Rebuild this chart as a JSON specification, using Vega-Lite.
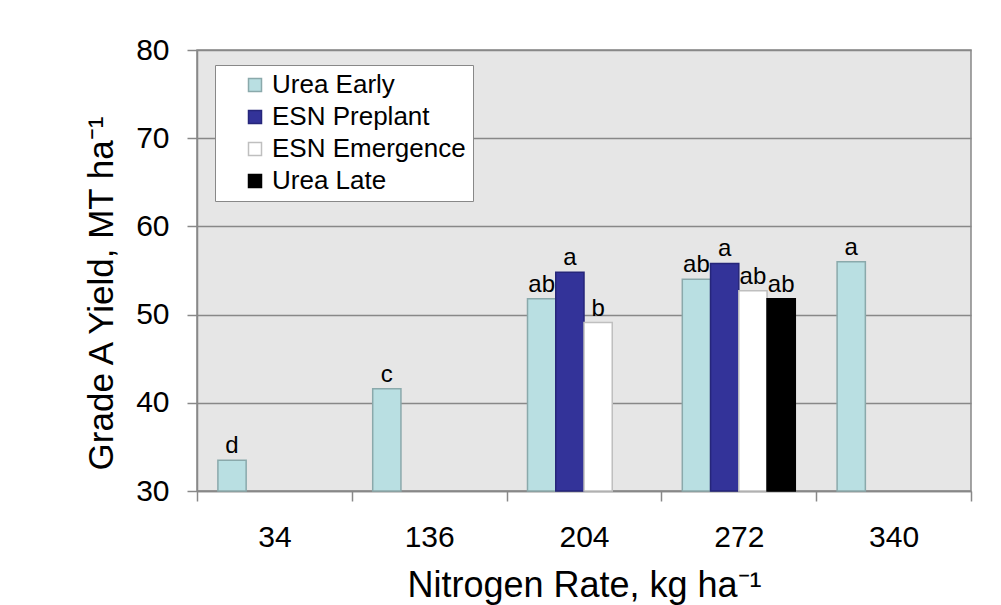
{
  "$schema": "https://vega.github.io/schema/vega-lite/v6.json",
  "width": 774,
  "height": 441,
  "autosize": {"type": "none"},
  "padding": {"left": 197, "top": 50, "right": 30, "bottom": 114},
  "background": "white",
  "config": {
    "font": "Liberation Sans",
    "view": {"fill": "#e6e6e6", "stroke": "#888888", "strokeWidth": 1.5}
  },
  "data": {
    "values": [
      {"rate": 34, "treatment": "Urea Early", "yield": 33.5, "letter": "d"},
      {"rate": 136, "treatment": "Urea Early", "yield": 41.6, "letter": "c"},
      {"rate": 204, "treatment": "Urea Early", "yield": 51.8, "letter": "ab"},
      {"rate": 204, "treatment": "ESN Preplant", "yield": 54.8, "letter": "a"},
      {"rate": 204, "treatment": "ESN Emergence", "yield": 49.1, "letter": "b"},
      {"rate": 272, "treatment": "Urea Early", "yield": 54.0, "letter": "ab"},
      {"rate": 272, "treatment": "ESN Preplant", "yield": 55.8, "letter": "a"},
      {"rate": 272, "treatment": "ESN Emergence", "yield": 52.7, "letter": "ab"},
      {"rate": 272, "treatment": "Urea Late", "yield": 51.8, "letter": "ab"},
      {"rate": 340, "treatment": "Urea Early", "yield": 56.0, "letter": "a"}
    ]
  },
  "encoding": {
    "x": {
      "field": "rate",
      "type": "ordinal",
      "scale": {"paddingInner": 0, "paddingOuter": 0},
      "axis": {
        "title": "Nitrogen Rate, kg ha⁻¹",
        "tickBand": "extent",
        "labelAngle": 0,
        "labelFontSize": 30,
        "labelColor": "black",
        "labelPadding": 21,
        "titleFontSize": 36,
        "titleFontWeight": "normal",
        "titleColor": "black",
        "titlePadding": 16,
        "tickColor": "#888888",
        "tickWidth": 1.5,
        "tickSize": 10,
        "domainColor": "#888888",
        "domainWidth": 1.5,
        "grid": false
      }
    },
    "xOffset": {
      "field": "treatment",
      "type": "nominal",
      "scale": {
        "domain": ["Urea Early", "ESN Preplant", "ESN Emergence", "Urea Late"],
        "paddingInner": 0,
        "paddingOuter": 0.74
      }
    },
    "y": {
      "field": "yield",
      "type": "quantitative",
      "scale": {"domain": [30, 80], "zero": false, "nice": false},
      "axis": {
        "title": "Grade A Yield,  MT ha⁻¹",
        "values": [30, 40, 50, 60, 70, 80],
        "grid": true,
        "gridColor": "#888888",
        "gridWidth": 1.5,
        "tickColor": "#888888",
        "tickWidth": 1.5,
        "tickSize": 10,
        "domainColor": "#888888",
        "domainWidth": 1.5,
        "labelFontSize": 30,
        "labelColor": "black",
        "labelPadding": 18,
        "titleFontSize": 35,
        "titleFontWeight": "normal",
        "titleColor": "black",
        "titlePadding": 16,
        "titleY": 243
      }
    }
  },
  "layer": [
    {
      "mark": {"type": "bar", "strokeWidth": 1.5},
      "encoding": {
        "y2": {"datum": 30},
        "fill": {
          "field": "treatment",
          "type": "nominal",
          "scale": {
            "domain": ["Urea Early", "ESN Preplant", "ESN Emergence", "Urea Late"],
            "range": ["#b9dfe2", "#333399", "#ffffff", "#000000"]
          },
          "legend": {
            "title": null,
            "orient": "none",
            "legendX": 18,
            "legendY": 15,
            "fillColor": "white",
            "strokeColor": "#888888",
            "padding": 7,
            "symbolType": "square",
            "symbolSize": 169,
            "symbolStrokeWidth": 1.5,
            "symbolOffset": 20,
            "labelOffset": 4,
            "labelFontSize": 26,
            "labelLimit": 400,
            "labelColor": "black",
            "rowPadding": 6
          }
        },
        "stroke": {
          "field": "treatment",
          "type": "nominal",
          "scale": {
            "domain": ["Urea Early", "ESN Preplant", "ESN Emergence", "Urea Late"],
            "range": ["#8aa9ab", "#26267a", "#bfbfbf", "#000000"]
          },
          "legend": {
            "title": null,
            "orient": "none",
            "legendX": 18,
            "legendY": 15,
            "fillColor": "white",
            "strokeColor": "#888888",
            "padding": 7,
            "symbolType": "square",
            "symbolSize": 169,
            "symbolStrokeWidth": 1.5,
            "symbolOffset": 20,
            "labelOffset": 4,
            "labelFontSize": 26,
            "labelLimit": 400,
            "labelColor": "black",
            "rowPadding": 6
          }
        }
      }
    },
    {
      "mark": {"type": "text", "baseline": "bottom", "dy": -2, "fontSize": 24, "color": "black"},
      "encoding": {"text": {"field": "letter"}}
    }
  ]
}
